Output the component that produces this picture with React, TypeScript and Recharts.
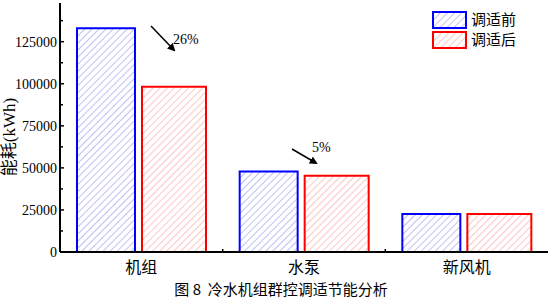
import { BarChart, Bar, XAxis, YAxis } from 'recharts'

const categories = ['机组', '水泵', '新风机']
const beforeValues = [133000, 47800, 22600]
const afterValues = [98200, 45300, 22600]
const yTicks = [0, 12500, 25000, 37500, 50000, 62500, 75000, 87500, 100000, 112500, 125000, 137500]
const seriesNames = ['调适前', '调适后']
const savings = ['26%', '5%']
const caption = '图 8  冷水机组群控调适节能分析'

const data = categories.map((name, i) => ({
  name,
  before: beforeValues[i],
  after: afterValues[i],
}))

const serif = "'Liberation Serif', 'DejaVu Serif', 'Noto Sans CJK SC', serif"
const cjk = "'Noto Sans CJK SC', 'Liberation Serif', sans-serif"

const YTick = (props: any) => {
  const { x, y, payload } = props
  const major = payload.value % 25000 === 0
  const ax = x + 3
  return (
    <g>
      <line x1={ax} x2={ax + (major ? 4 : 3)} y1={y} y2={y} stroke="#000" strokeWidth={1.5} />
      {major && (
        <text x={x} y={y} dy="0.35em" textAnchor="end" fontSize={14} style={{ fontFamily: serif }} fill="#000">
          {payload.value}
        </text>
      )}
    </g>
  )
}

const XTick = (props: any) => {
  const { x, y, payload } = props
  return (
    <text x={x} y={y + 7} dy="0.35em" textAnchor="middle" fontSize={16} style={{ fontFamily: cjk }} fill="#000">
      {payload.value}
    </text>
  )
}

export default function App() {
  return (
    <div style={{ position: 'absolute', left: 0, top: 0, width: 553, height: 301, background: '#fff' }}>
      <BarChart
        width={553} height={301} data={data}
        margin={{ top: 3, right: 5, left: 0, bottom: 0 }}
        barGap={7} barCategoryGap={16}
      >
        <defs>
          <pattern id="hatchBlue" width={5} height={5} patternUnits="userSpaceOnUse" patternTransform="rotate(45)">
            <rect width={5} height={5} fill="#fff" />
            <line x1={0} y1={0} x2={0} y2={5} stroke="#8282ee" strokeWidth={1} />
          </pattern>
          <pattern id="hatchRed" width={5} height={5} patternUnits="userSpaceOnUse" patternTransform="rotate(45)">
            <rect width={5} height={5} fill="#fff" />
            <line x1={0} y1={0} x2={0} y2={5} stroke="#ff8c8c" strokeWidth={1} />
          </pattern>
        </defs>
        <XAxis dataKey="name" height={49} tick={<XTick />} tickLine={false} axisLine={{ stroke: '#000', strokeWidth: 2 }} interval={0} />
        <XAxis xAxisId="top" orientation="top" dataKey="name" height={0} tick={false} tickLine={false} axisLine={{ stroke: '#000', strokeWidth: 2 }} />
        <YAxis
          width={60} domain={[0, 148000]} ticks={yTicks} interval={0}
          tick={<YTick />} tickLine={false} tickSize={0} tickMargin={3}
          axisLine={{ stroke: '#000', strokeWidth: 2 }}
        />
        <YAxis yAxisId="right" orientation="right" width={0} domain={[0, 148000]} tick={false} tickLine={false} axisLine={{ stroke: '#000', strokeWidth: 2 }} />
        <Bar dataKey="before" name={seriesNames[0]} barSize={58} fill="url(#hatchBlue)" stroke="#0000ff" strokeWidth={2} isAnimationActive={false} />
        <Bar dataKey="after" name={seriesNames[1]} barSize={64} fill="url(#hatchRed)" stroke="#ff0000" strokeWidth={2} isAnimationActive={false} />
      </BarChart>
      <svg width={553} height={301} style={{ position: 'absolute', left: 0, top: 0, pointerEvents: 'none' }}>
        <defs>
          <marker id="arrowHead" markerWidth={8} markerHeight={8} refX={6} refY={4} orient="auto" markerUnits="userSpaceOnUse">
            <path d="M0,0 L8,4 L0,8 z" fill="#000" />
          </marker>
        </defs>
        {/* legend */}
        {seriesNames.map((n, i) => (
          <g key={n}>
            <rect x={433} y={12 + i * 20} width={33} height={16}
              fill={`url(#${i === 0 ? 'hatchBlue' : 'hatchRed'})`}
              stroke={i === 0 ? '#0000ff' : '#ff0000'} strokeWidth={2} />
            <text x={471} y={20 + i * 20} dy="0.35em" fontSize={15} style={{ fontFamily: cjk }}>{n}</text>
          </g>
        ))}
        <line x1={151} y1={26} x2={174} y2={50} stroke="#000" strokeWidth={1.5} markerEnd="url(#arrowHead)" />
        <text x={173} y={39} dy="0.35em" fontSize={14} style={{ fontFamily: serif }}>{savings[0]}</text>
        <line x1={292} y1={149} x2={316} y2={163} stroke="#000" strokeWidth={1.5} markerEnd="url(#arrowHead)" />
        <text x={312} y={147} dy="0.35em" fontSize={14} style={{ fontFamily: serif }}>{savings[1]}</text>
        {[222.7, 385.3].map((bx) => (
          <line key={bx} x1={bx} x2={bx} y1={252} y2={249} stroke="#000" strokeWidth={1.5} />
        ))}
        <text transform="translate(15,137) rotate(-90)" textAnchor="middle" fontSize={17} style={{ fontFamily: serif }}>能耗(kWh)</text>
        <text x={281} y={290} dy="0.35em" textAnchor="middle" fontSize={15} style={{ fontFamily: cjk }} xmlSpace="preserve">{caption}</text>
      </svg>
    </div>
  )
}
